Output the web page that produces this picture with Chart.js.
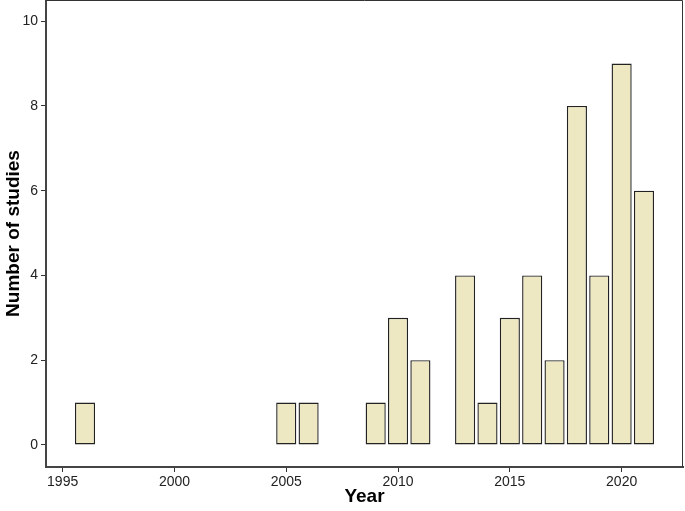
<!DOCTYPE html>
<html>
<head>
<meta charset="utf-8">
<script src="https://cdn.jsdelivr.net/npm/chart.js@4"></script>
<style>
  html, body { margin: 0; padding: 0; background: #fff; }
  #wrap { width: 685px; height: 511px; }
</style>
</head>
<body>
<div id="wrap"><canvas id="studies-chart" width="685" height="511"></canvas></div>
<script>
/* Data */
let years = [1996, 2005, 2006, 2009, 2010, 2011, 2013, 2014, 2015, 2016, 2017, 2018, 2019, 2020, 2021]
let studies = [1, 1, 1, 1, 3, 2, 4, 1, 3, 4, 2, 8, 4, 9, 6]
let xTicks = [1995, 2000, 2005, 2010, 2015, 2020]
let yTicks = [0, 2, 4, 6, 8, 10]

let ctx = document.querySelector('#studies-chart').getContext('2d')

let points = years.map((yr, i) => ({ x: yr, y: studies[i] }))

// draws the box round the plot area (top and right sides)
let frame = {
    id: 'frame',
    afterDraw(chart) {
        let a = chart.chartArea
        let c = chart.ctx
        c.save()
        c.strokeStyle = '#333'
        c.lineWidth = 1
        c.beginPath()
        c.moveTo(a.left, a.top + 0.5)
        c.lineTo(a.right - 0.5, a.top + 0.5)
        c.lineTo(a.right - 0.5, a.bottom)
        c.stroke()
        c.restore()
    }
}

let tickFont = { family: 'Liberation Sans, Arial, sans-serif', size: 14 }
let titleFont = { family: 'Liberation Sans, Arial, sans-serif', size: 19, weight: 'bold' }

let chart = new Chart(ctx, {
    type: 'bar',
    data: {
        datasets: [{
            data: points,
            backgroundColor: '#EEE8C2',
            borderColor: '#222',
            borderWidth: 1.4,
            borderSkipped: false,
            barPercentage: 0.9,
            categoryPercentage: 1
        }]
    },
    options: {
        responsive: false,
        animation: false,
        layout: { padding: { top: 0, right: 2, left: 0, bottom: 0 } },
        plugins: { legend: { display: false }, tooltip: { enabled: false } },
        scales: {
            x: {
                type: 'linear',
                offset: false,
                min: 1994.255,
                max: 2022.745,
                afterBuildTicks: s => { s.ticks = xTicks.map(v => ({ value: v })) },
                afterFit: s => { s.height = 44; s.paddingLeft = 0; s.paddingRight = 0 },
                ticks: { font: tickFont, color: '#222', padding: 2, callback: v => String(v) },
                grid: { drawOnChartArea: false, drawTicks: true, offset: false, tickLength: 5, tickWidth: 1, tickColor: '#333', color: '#333' },
                border: { color: '#444', width: 2 },
                title: { display: true, text: 'Year', font: titleFont, color: '#000', padding: { top: 1, bottom: 3 } }
            },
            y: {
                min: -0.52,
                max: 10.5,
                afterBuildTicks: s => { s.ticks = yTicks.map(v => ({ value: v })) },
                afterFit: s => { s.width = 46; s.paddingTop = 0; s.paddingBottom = 0 },
                ticks: { font: tickFont, color: '#222', padding: 3 },
                grid: { drawOnChartArea: false, drawTicks: true, tickLength: 5, tickWidth: 1, tickColor: '#333', color: '#333' },
                border: { color: '#444', width: 2 },
                title: { display: true, text: 'Number of studies', font: titleFont, color: '#000', padding: { top: 2, bottom: 0 } }
            }
        }
    },
    plugins: [frame]
})
</script>
</body>
</html>
